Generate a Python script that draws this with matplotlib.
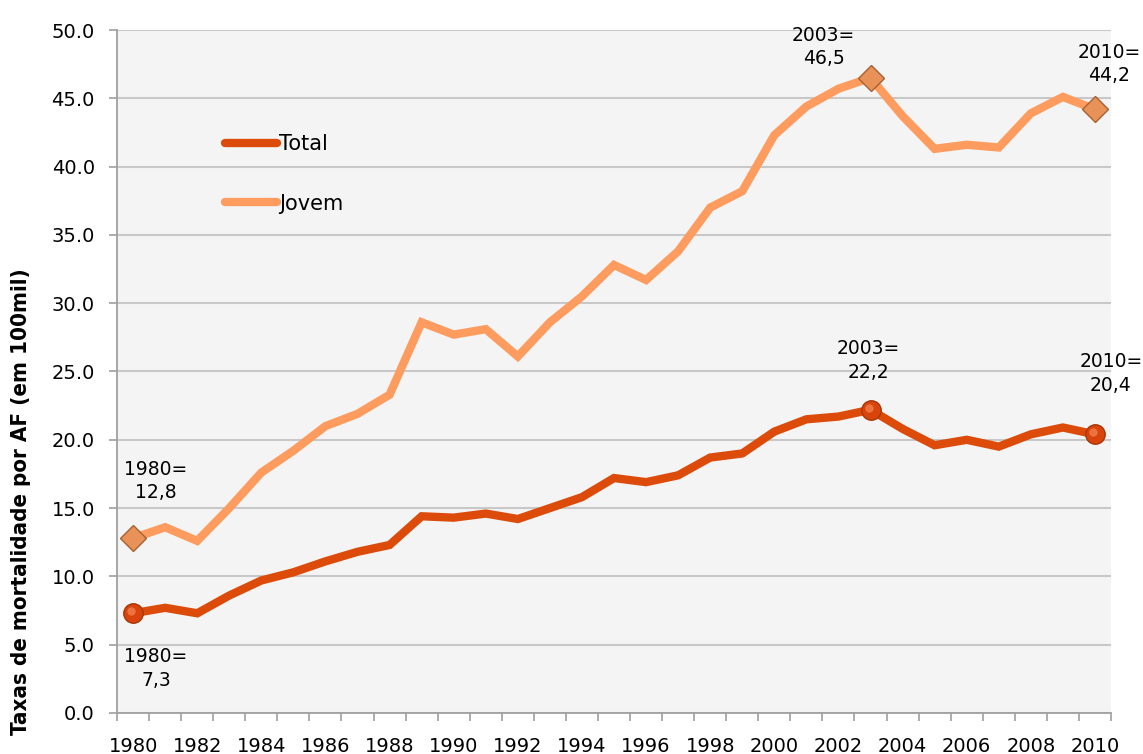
import numpy as np
import matplotlib
matplotlib.use("Agg")
import matplotlib.pyplot as plt
from matplotlib.transforms import offset_copy

anos = list(range(1980, 2011))

total = [7.3, 7.7, 7.3, 8.6, 9.7, 10.3, 11.1, 11.8, 12.3, 14.4, 14.3, 14.6, 14.2, 15.0,
         15.8, 17.2, 16.9, 17.4, 18.7, 19.0, 20.6, 21.5, 21.7, 22.2, 20.8, 19.6, 20.0,
         19.5, 20.4, 20.9, 20.4]
jovem = [12.8, 13.6, 12.6, 15.0, 17.6, 19.2, 21.0, 21.9, 23.3, 28.6, 27.7, 28.1, 26.1, 28.6,
         30.5, 32.8, 31.7, 33.8, 37.0, 38.2, 42.3, 44.4, 45.7, 46.5, 43.7, 41.3, 41.6,
         41.4, 43.9, 45.1, 44.2]

cor_total = "#dc4b0a"
cor_jovem = "#fd9c5e"

# pontos destacados: (ano, serie, deslocamento do texto em pixels)
destaques = [
    (1980, "jovem", (23, 57)),
    (2003, "jovem", (-47, 31)),
    (2010, "jovem", (14, 45)),
    (1980, "total", (23, -55)),
    (2003, "total", (-2, 49)),
    (2010, "total", (16, 61)),
]

plt.rcParams["font.family"] = ["DejaVu Sans"]

fig = plt.figure(figsize=(11.43, 7.54), dpi=100)
ax = fig.add_axes([0.1024, 0.0544, 0.8696, 0.9058])
ax.set_facecolor("#f4f4f4")

ax.plot(anos, total, color=cor_total, lw=6, solid_joinstyle="miter",
        solid_capstyle="round", label="Total", zorder=3)
ax.plot(anos, jovem, color=cor_jovem, lw=6, solid_joinstyle="miter",
        solid_capstyle="round", label="Jovem", zorder=3)

brilho = offset_copy(ax.transData, fig=fig, x=-2, y=2, units="dots")
series = {"total": total, "jovem": jovem}
for ano, nome, (dx, dy) in destaques:
    v = series[nome][anos.index(ano)]
    if nome == "total":
        ax.plot(ano, v, marker="o", ms=14, mfc="#d8440c", mec="#a8360a", mew=1, zorder=5)
        ax.plot(ano, v, marker="o", ms=6, mfc="#f2804e", mec="none", alpha=0.8,
                zorder=6, transform=brilho)
    else:
        ax.plot(ano, v, marker="D", ms=13, mfc="#e8925a", mec="#a8612f", mew=1, zorder=5)
    txt = f"{ano}=\n{v:.1f}".replace(".", ",")
    ax.annotate(txt, (ano, v), xytext=(dx, dy), textcoords="offset pixels",
                ha="center", va="center", fontsize=13.5, linespacing=1.3)

ax.set_xlim(1979.5, 2010.5)
ax.set_ylim(0, 50)
ax.set_yticks(np.arange(0, 50.1, 5))
ax.set_yticklabels([f"{t:.1f}" for t in np.arange(0, 50.1, 5)], fontsize=14)
ax.set_xticks(anos[::2])
ax.set_xticklabels([str(a) for a in anos[::2]], fontsize=14)
ax.set_xticks(np.arange(1979.5, 2011, 1), minor=True)
ax.tick_params(axis="x", which="major", length=0, pad=17)
ax.tick_params(axis="x", which="minor", length=6, color="#a0a0a0", width=1.2)
ax.tick_params(axis="y", length=6, color="#a0a0a0", width=1.2, pad=10)

ax.grid(axis="y", color="#c8c8c8", lw=1.5)
ax.set_axisbelow(True)
for s in ["top", "right"]:
    ax.spines[s].set_visible(False)
for s in ["left", "bottom"]:
    ax.spines[s].set_color("#a0a0a0")
    ax.spines[s].set_linewidth(1.3)

ax.set_ylabel("Taxas de mortalidade por AF (em 100mil)", fontsize=16, fontweight="bold",
              fontstretch="condensed", family="DejaVu Sans")
ax.yaxis.set_label_coords(-0.087, 0.31)

ax.legend(loc="upper left", bbox_to_anchor=(0.09, 0.875), frameon=False, fontsize=15,
          handlelength=2.5, handletextpad=0.1, labelspacing=1.9)

fig.savefig("out.png", dpi=100)
